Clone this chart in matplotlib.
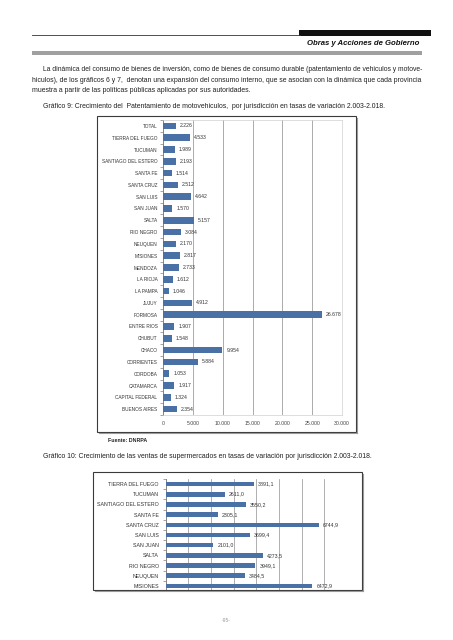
import numpy as np
import matplotlib.pyplot as plt
from matplotlib.patches import Rectangle
from matplotlib.lines import Line2D

W, H = 453, 640

# Chart 9 data (top to bottom)
provincias9 = ["TOTAL", "TIERRA DEL FUEGO", "TUCUMAN", "SANTIAGO DEL ESTERO", "SANTA FE",
               "SANTA CRUZ", "SAN LUIS", "SAN JUAN", "SALTA", "RIO NEGRO", "NEUQUEN",
               "MISIONES", "MENDOZA", "LA RIOJA", "LA PAMPA", "JUJUY", "FORMOSA",
               "ENTRE RIOS", "CHUBUT", "CHACO", "CORRIENTES", "CORDOBA", "CATAMARCA",
               "CAPITAL FEDERAL", "BUENOS AIRES"]
tasas9 = [2226, 4533, 1989, 2193, 1514, 2512, 4642, 1570, 5157, 3084, 2170,
          2817, 2733, 1612, 1046, 4912, 26678, 1907, 1548, 9954, 5884, 1053, 1917,
          1324, 2354]
xticks9 = [0, 5000, 10000, 15000, 20000, 25000, 30000]

# Chart 10 data (top to bottom)
provincias10 = ["TIERRA DEL FUEGO", "TUCUMAN", "SANTIAGO DEL ESTERO", "SANTA FE", "SANTA CRUZ",
                "SAN LUIS", "SAN JUAN", "SALTA", "RIO NEGRO", "NEUQUEN", "MISIONES"]
tasas10 = [3891.1, 2611.0, 3550.2, 2305.1, 6744.9, 3699.4, 2101.0, 4273.5, 3949.1, 3484.5, 6472.9]

parrafo = [
    "La dinámica del consumo de bienes de inversión, como de bienes de consumo durable (patentamiento de vehiculos y motove-",
    "hiculos), de los gráficos 6 y 7,  denotan una expansión del consumo interno, que se asocian con la dinámica que cada provincia",
    "muestra a partir de las políticas públicas aplicadas por sus autoridades.",
]
titulo9 = "Gráfico 9: Crecimiento del  Patentamiento de motovehiculos,  por jurisdicción en tasas de variación 2.003-2.018."
titulo10 = "Gráfico 10: Crecimiento de las ventas de supermercados en tasas de variación por jurisdicción 2.003-2.018."

BAR = "#4a71a6"
FONT = "Liberation Sans"
TXT = "#222222"


def fx(x):
    return x / W


def fy(y):
    return 1 - y / H


def miles(v):
    return f"{int(v):,}".replace(",", ".")


def coma(v):
    return f"{v:.1f}".replace(".", ",")


fig = plt.figure(figsize=(W / 100, H / 100), dpi=100)
fig.patch.set_facecolor("white")

# header
fig.add_artist(Line2D([fx(32), fx(300)], [fy(34.5), fy(34.5)], color="#333333", lw=0.6))
fig.add_artist(Rectangle((fx(299), fy(35.5)), fx(431 - 299), 5.5 / H, color="#111111", lw=0))
fig.text(fx(419), fy(43.5), "Obras y Acciones de Gobierno", ha="right", va="center",
         fontsize=5.6, fontweight="bold", fontstyle="italic", family=FONT, color="#111111")
fig.add_artist(Rectangle((fx(32), fy(54.5)), fx(422 - 32), 4 / H, color="#a0a0a0", lw=0))

# body text
renderer = fig.canvas.get_renderer()
tsize = 4.95


def plain(line, x0, y, size=tsize):
    return fig.text(fx(x0), fy(y), line, fontsize=size, family=FONT, color=TXT, va="center")


def fitted(line, x0, x1, y):
    # justified lines: scale the font a little so the line spans the column
    t = plain(line, x0, y)
    w = t.get_window_extent(renderer).width
    t.set_fontsize(min(tsize * (x1 - x0) / w, tsize * 1.08))


fitted(parrafo[0], 43, 422, 69.5)
fitted(parrafo[1], 32, 422, 80.5)
plain(parrafo[2], 32, 91)
plain(titulo9, 43, 106)
plain(titulo10, 43, 457)


def frame(x0, y0, x1, y1):
    fig.add_artist(Rectangle((fx(x0), fy(y1)), fx(x1 - x0), (y1 - y0) / H,
                             fill=False, ec="#3a3a3a", lw=0.8))
    fig.add_artist(Line2D([fx(x1 + 0.8), fx(x1 + 0.8)], [fy(y1 + 0.8), fy(y0 + 2)],
                          color="#9a9a9a", lw=0.8))
    fig.add_artist(Line2D([fx(x0 + 2), fx(x1 + 0.8)], [fy(y1 + 0.8), fy(y1 + 0.8)],
                          color="#9a9a9a", lw=0.8))


# chart 9
frame(97, 116, 356, 432)
ax1 = fig.add_axes([fx(163), fy(415), fx(342 - 163), (415 - 120) / H])
y9 = np.arange(len(provincias9))
ax1.barh(y9, tasas9, height=0.56, color=BAR, zorder=3)
ax1.set_ylim(len(provincias9) - 0.5, -0.5)
ax1.set_xlim(0, 30000)
ax1.set_xticks(xticks9)
ax1.set_xticklabels([miles(v) for v in xticks9], fontsize=3.7, family=FONT, color="#444444")
ax1.set_yticks(y9)
ax1.set_yticklabels(provincias9, fontsize=3.45, family=FONT, color="#333333")
ax1.set_yticks(np.arange(-0.5, len(provincias9), 1), minor=True)
ax1.tick_params(axis="y", which="major", length=0, pad=4)
ax1.tick_params(axis="y", which="minor", length=2, color="#808080", width=0.5)
ax1.tick_params(axis="x", length=0, pad=4)
ax1.xaxis.grid(True, color="#8a8a8a", lw=0.5, zorder=0)
for s in ["top", "right", "bottom"]:
    ax1.spines[s].set_color("#d0d0d0")
    ax1.spines[s].set_linewidth(0.5)
ax1.spines["left"].set_color("#808080")
ax1.spines["left"].set_linewidth(0.6)
for yi, v in zip(y9, tasas9):
    ax1.text(v + 650, yi, miles(v), va="center", ha="left", fontsize=3.7, family=FONT,
             color="#333333", zorder=4)
fig.text(fx(108), fy(440), "Fuente: DNRPA", fontsize=3.8, fontweight="bold", family=FONT,
         color=TXT, va="center")

# chart 10
frame(93, 472, 362, 590)
ax2 = fig.add_axes([fx(165.7), fy(591), fx(347 - 165.7), (591 - 479) / H])
y10 = np.arange(len(provincias10))
ax2.barh(y10, tasas10, height=0.45, color=BAR, zorder=3)
ax2.set_ylim(len(provincias10) - 0.5, -0.5)
ax2.set_xlim(0, 8000)
ax2.set_xticks(np.arange(0, 8001, 1000))
ax2.set_xticklabels([])
ax2.tick_params(axis="x", length=0)
ax2.set_yticks(y10)
ax2.set_yticklabels(provincias10, fontsize=3.8, family=FONT, color="#333333")
ax2.set_yticks(np.arange(-0.5, len(provincias10), 1), minor=True)
ax2.tick_params(axis="y", which="major", length=0, pad=5)
ax2.tick_params(axis="y", which="minor", length=2, color="#808080", width=0.5)
ax2.xaxis.grid(True, color="#909090", lw=0.5, zorder=0)
for s in ["top", "right", "bottom"]:
    ax2.spines[s].set_visible(False)
ax2.spines["left"].set_color("#808080")
ax2.spines["left"].set_linewidth(0.6)
for yi, v in zip(y10, tasas10):
    ax2.text(v + 180, yi, coma(v), va="center", ha="left", fontsize=3.8, family=FONT,
             color="#333333", zorder=4)

fig.text(fx(226), fy(621), "-95-", ha="center", va="center", fontsize=3.6, family=FONT,
         color="#999999")

fig.savefig("out.png", dpi=100)
